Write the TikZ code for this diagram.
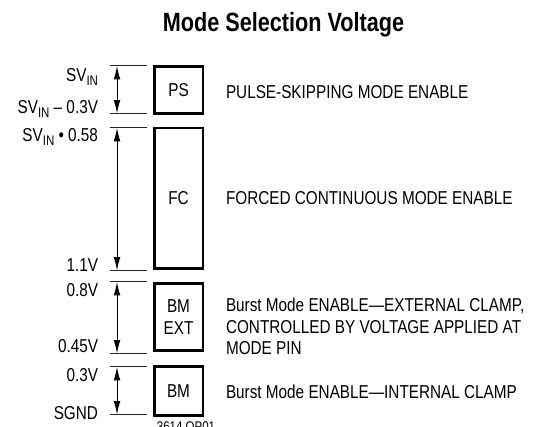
\documentclass[tikz,border=0pt]{standalone}
\usepackage{fontspec}
\setmainfont[FakeStretch=0.82]{Liberation Sans}
\usetikzlibrary{arrows.meta}
\newcommand{\svin}{SV\raisebox{-2.5pt}{\fontsize{10.5}{12}\selectfont IN}}
\begin{document}
\begin{tikzpicture}[x=0.75pt,y=-0.75pt,
  every node/.style={inner sep=0pt, outer sep=0pt},
  txt/.style={font=\fontsize{14}{16.35}\selectfont},
  modebox/.style={draw, line width=1.9pt, minimum width=36.4pt, txt, align=center},
  tick/.style={line width=0.75pt, black!85},
  dimarrow/.style={line width=0.75pt, {Latex[length=10pt,width=5pt]}-{Latex[length=10pt,width=5pt]}},
  lab/.style={txt, anchor=base east},
  desc/.style={txt, anchor=base west, align=left}
]
\useasboundingbox (0,0) rectangle (537,427);

% title
\node[font=\bfseries\fontsize{19.8}{24}\selectfont, anchor=base] (title) at (283.5,31.7) {Mode Selection Voltage};

% boxes
\node[modebox, minimum height=35.6pt] (ps) at (178.5,90) {PS};
\node[modebox, minimum height=105.4pt] (fc) at (178.5,198.5) {FC};
\node[modebox, minimum height=50.6pt] (bmext) at (178.5,317) {BM\\EXT};
\node[modebox, minimum height=37.1pt] (bm) at (178.5,391) {BM};

% ticks
\foreach \yy in {66,113.5,128,270.5,282,353.5,367,414.5}
  \draw[tick] (110,\yy) -- (147,\yy);

% dimension arrows
\coordinate (r1t) at (117,66);    \coordinate (r1b) at (117,113.5);
\coordinate (r2t) at (117,128);   \coordinate (r2b) at (117,270.5);
\coordinate (r3t) at (117,282);   \coordinate (r3b) at (117,353.5);
\coordinate (r4t) at (117,367);   \coordinate (r4b) at (117,414.5);
\draw[dimarrow] (r1t) -- (r1b);
\draw[dimarrow] (r2t) -- (r2b);
\draw[dimarrow] (r3t) -- (r3b);
\draw[dimarrow] (r4t) -- (r4b);

% left labels
\node[lab] (l1) at (98,82) {\svin};
\node[lab] (l2) at (98,114) {\svin{} – 0.3V};
\node[lab] (l3) at (98,142) {\svin{} • 0.58};
\node[lab] (l4) at (98,272) {1.1V};
\node[lab] (l5) at (98,297) {0.8V};
\node[lab] (l6) at (98,353) {0.45V};
\node[lab] (l7) at (98,382) {0.3V};
\node[lab] (l8) at (98,420) {SGND};

% descriptions
\node[desc] (d1) at (226,98.5) {PULSE-SKIPPING MODE ENABLE};
\node[desc] (d2) at (226,205) {FORCED CONTINUOUS MODE ENABLE};
\node[txt, anchor=west, align=left] (d3) at (226,326.5) {Burst Mode ENABLE—EXTERNAL CLAMP,\\CONTROLLED BY VOLTAGE APPLIED AT\\MODE PIN};
\node[desc] (d4) at (226,399) {Burst Mode ENABLE—INTERNAL CLAMP};

% figure code
\node[font=\fontsize{10.5}{12}\selectfont, anchor=base] (code) at (186,432) {3614 OP01};
\end{tikzpicture}
\end{document}
